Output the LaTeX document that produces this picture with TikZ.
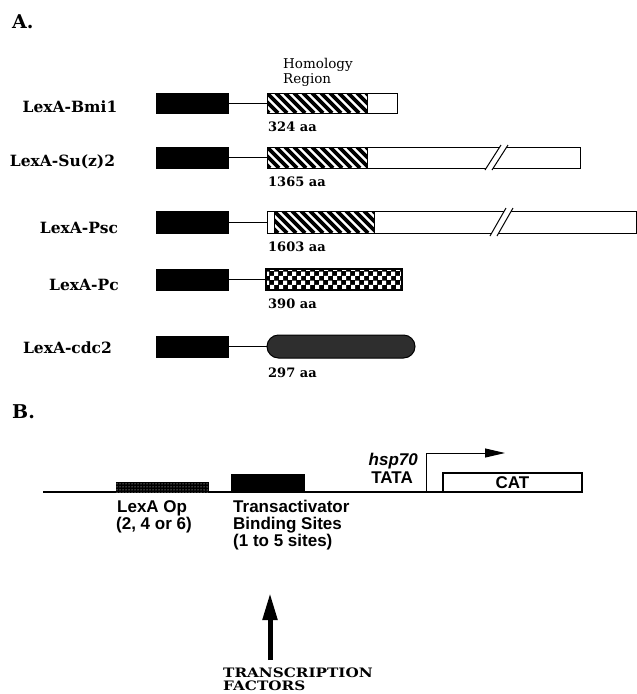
\documentclass[tikz,border=0pt]{standalone}
\usepackage{fontspec}
\setmainfont{DejaVu Serif}
\newfontfamily\helv{Liberation Sans}
\usetikzlibrary{patterns,patterns.meta,arrows.meta}
\pgfdeclarepatternformonly{checker}{\pgfpointorigin}{\pgfpoint{9pt}{9pt}}{\pgfpoint{9pt}{9pt}}{%
  \pgfpathrectangle{\pgfpointorigin}{\pgfpoint{4.5pt}{4.5pt}}%
  \pgfpathrectangle{\pgfpoint{4.5pt}{4.5pt}}{\pgfpoint{4.5pt}{4.5pt}}%
  \pgfusepath{fill}}
\tikzset{
  lexabox/.style={draw=black, fill=black, minimum width=72pt, inner sep=0pt, outer sep=0pt},
  dom/.style={draw=black, fill=white, line width=1pt, inner sep=0pt, outer sep=0pt, anchor=west},
  hatchline/.style={line width=3.8pt, line cap=butt},
  rowlab/.style={font=\bfseries\fontsize{15.5}{17}\selectfont, anchor=base, inner sep=0pt},
  aalab/.style={font=\bfseries\fontsize{13}{15}\selectfont, anchor=base west, inner sep=0pt},
  homlab/.style={font=\fontsize{13.5}{15}\selectfont, anchor=base west, inner sep=0pt},
  seclab/.style={font=\bfseries\fontsize{19}{21}\selectfont, anchor=base west, inner sep=0pt},
  link/.style={line width=0.9pt},
  brk/.style={line width=1pt},
  bfont/.style={font=\helv\bfseries\fontsize{17}{20}\selectfont, inner sep=0pt},
  tflab/.style={font=\bfseries\fontsize{13}{15}\selectfont, anchor=base west, inner sep=0pt, xscale=1.17},
}
% hatched block: #1 = left x, #2 = top y, #3 = height (width 100)
\newcommand\hatchblock[3]{%
  \begin{scope}
    \clip (#1,#2) rectangle ++(100,#3);
    \foreach \k in {-3,...,12}
      \draw[hatchline] ({#1+\k*9},#2) -- ++(#3,#3);
  \end{scope}
  \draw[line width=1pt] (#1,#2) rectangle ++(100,#3);}
\begin{document}
\begin{tikzpicture}[x=1pt,y=-1pt]
\useasboundingbox (0,0) rectangle (637,694);
% ---------- Part A ----------
\node[seclab] (labA) at (12,28) {A.};
\node[homlab] (hom1) at (283,68) {Homology};
\node[homlab] (hom2) at (283,83) {Region};

% Bmi1
\node[rowlab] (lBmi) at (70,112) {LexA-Bmi1};
\node[lexabox, minimum height=20pt] (bmiL) at (192,103) {};
\node[dom, minimum width=130pt, minimum height=20pt] (bmiD) at (267,103) {};
\hatchblock{267}{93}{20}
\draw[link] (bmiL.east) -- (bmiD.west);
\node[aalab] (aBmi) at (268,131) {324 aa};

% Su(z)2
\node[rowlab] (lSu) at (62.5,166) {LexA-Su(z)2};
\node[lexabox, minimum height=21pt] (suL) at (192,157.5) {};
\node[dom, minimum width=313pt, minimum height=21pt] (suD) at (267,157.5) {};
\hatchblock{267}{147}{21}
\fill[white] (485,170) -- (492,170) -- (508,145) -- (501,145) -- cycle;
\draw[brk] (485,170) -- (501,145) (492,170) -- (508,145);
\draw[link] (suL.east) -- (suD.west);
\node[aalab] (aSu) at (268,186) {1365 aa};

% Psc
\node[rowlab] (lPsc) at (79,233) {LexA-Psc};
\node[lexabox, minimum height=22pt] (pscL) at (192,222) {};
\node[dom, minimum width=369pt, minimum height=22pt] (pscD) at (267,222) {};
\hatchblock{274}{211}{22}
\fill[white] (490,236) -- (497,236) -- (513,208) -- (506,208) -- cycle;
\draw[brk] (490,236) -- (506,208) (497,236) -- (513,208);
\draw[link] (pscL.east) -- (pscD.west);
\node[aalab] (aPsc) at (268,251) {1603 aa};

% Pc
\node[rowlab] (lPc) at (84,290) {LexA-Pc};
\node[lexabox, minimum height=21pt] (pcL) at (192,279.5) {};
\node[dom, fill=black, minimum width=136pt, minimum height=21pt,
      postaction={pattern=checker, pattern color=white}] (pcD) at (266,279.5) {};
\draw[line width=1.4pt] (pcD.north west) rectangle (pcD.south east);
\draw[link] (pcL.east) -- (pcD.west);
\node[aalab] (aPc) at (268,308) {390 aa};

% cdc2
\node[rowlab] (lCdc) at (67.5,353) {LexA-cdc2};
\node[lexabox, minimum height=21pt] (cdcL) at (192,346.5) {};
\node[dom, fill=black!82, rounded corners=11.5pt, minimum width=148pt, minimum height=23pt] (cdcD) at (267,346.5) {};
\draw[link] (cdcL.east) -- (cdcD.west);
\node[aalab] (aCdc) at (268,377) {297 aa};

% ---------- Part B ----------
\node[seclab] (labB) at (12,418) {B.};
\coordinate (dnaL) at (43,492);
\coordinate (dnaR) at (583,492);
\draw[line width=1.3pt] (dnaL) -- (dnaR);
\node[draw=black, line width=0.8pt, fill=black, minimum width=92pt, minimum height=10pt, anchor=south west, inner sep=0pt, outer sep=0pt,
      postaction={pattern={Dots[radius=0.5pt,distance=3pt]}, pattern color=white}] (lexop) at (116,492) {};
\node[fill=black, minimum width=74pt, minimum height=18pt, anchor=south west, inner sep=0pt, outer sep=0pt] (tabs) at (231,492) {};
\node[draw=black, line width=1.2pt, fill=white, minimum width=139pt, minimum height=19pt, anchor=south west, outer sep=0pt, bfont] (cat) at (443,492) {CAT};
\coordinate (tss) at (426,492);
\coordinate (tssE) at (505,453);
\draw[line width=1pt, -{Triangle[length=20pt,width=9pt]}] (tss) |- (tssE);
\node[bfont, anchor=base east] (hsp) at (418,465) {\itshape hsp70};
\node[bfont, anchor=base east] (tata) at (413,483) {TATA};
\node[bfont, anchor=base west] (op1) at (117,512) {LexA Op};
\node[bfont, anchor=base west] (op2) at (116,529) {(2, 4 or 6)};
\node[bfont, anchor=base west] (tr1) at (233,512) {Transactivator};
\node[bfont, anchor=base west] (tr2) at (233,529) {Binding Sites};
\node[bfont, anchor=base west] (tr3) at (233,546) {(1 to 5 sites)};
\coordinate (tfB) at (270,660);
\coordinate (tfT) at (270,593);
\draw[line width=5pt, -{Triangle[length=27pt,width=14pt]}] (tfB) -- (tfT);
\node[tflab] (tf1) at (223,677) {TRANSCRIPTION};
\node[tflab] (tf2) at (223,690) {FACTORS};
\end{tikzpicture}
\end{document}
